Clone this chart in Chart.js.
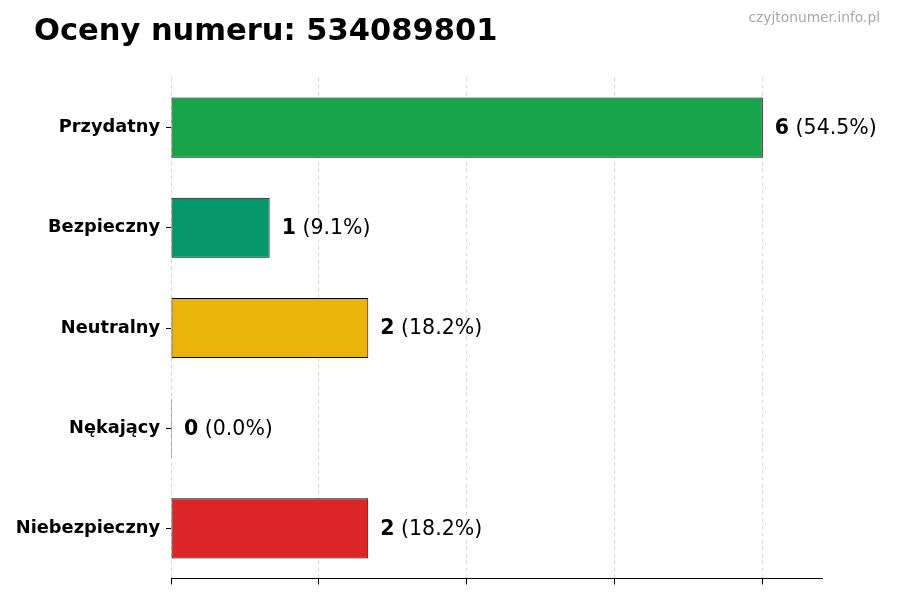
<!DOCTYPE html>
<html>
<head>
<meta charset="utf-8">
<script src="https://cdn.jsdelivr.net/npm/chart.js@4.4.1/dist/chart.umd.min.js"></script>
<style>
  body { margin: 0; background: #fff; }
  #wrap { width: 900px; height: 600px; position: relative; }
</style>
</head>
<body>
<div id="wrap"><canvas id="bar-chart"></canvas></div>
<script>

var categories = ["Przydatny", "Bezpieczny", "Neutralny", "Nękający", "Niebezpieczny"];
var counts = [6, 1, 2, 0, 2];
var colors = ["#17a34a", "#05966a", "#eab40b", "#7f1d1d", "#dc2627"];
var xTicks = [0, 1.5, 3, 4.5, 6];
var titleText = "Oceny numeru: 534089801";
var siteText = "czyjtonumer.info.pl";

var total = counts.reduce(function(a, b) { return a + b; }, 0);

// title, watermark and value labels next to bars
var labelsPlugin = {
  id: "labels",
  afterDraw: function(chart) {
    var ctx = chart.ctx;
    ctx.save();
    ctx.textBaseline = "middle";
    ctx.fillStyle = "#000";
    ctx.font = "bold 30.5px 'DejaVu Sans'";
    ctx.textAlign = "left";
    ctx.fillText(titleText, 34, 32);

    ctx.font = "13.8px 'DejaVu Sans'";
    ctx.fillStyle = "#a8a8a8";
    ctx.textAlign = "right";
    ctx.fillText(siteText, 880, 18);

    var meta = chart.getDatasetMeta(0);
    ctx.textAlign = "left";
    meta.data.forEach(function(bar, i) {
      var x = Math.max(bar.x, bar.base) + 12;
      var y = bar.y + 1;
      var num = String(counts[i]);
      var pct = " (" + (total ? counts[i] / total * 100 : 0).toFixed(1) + "%)";
      ctx.fillStyle = "#000";
      ctx.font = "bold 20.5px 'DejaVu Sans'";
      ctx.fillText(num, x, y);
      var w = ctx.measureText(num).width;
      ctx.font = "20.5px 'DejaVu Sans'";
      ctx.fillText(pct, x + w, y);
    });
    ctx.restore();
  }
};

var chart = new Chart(document.getElementById("bar-chart"), {
  type: "bar",
  data: {
    labels: categories,
    datasets: [{
      data: counts,
      backgroundColor: colors,
      borderColor: "#000",
      borderWidth: 1,
      borderSkipped: false,
      minBarLength: 1,
      barPercentage: 0.6,
      categoryPercentage: 1.0
    }]
  },
  options: {
    indexAxis: "y",
    responsive: true,
    maintainAspectRatio: false,
    animation: false,
    devicePixelRatio: 1,
    layout: { padding: { top: 77.5, right: 78, left: 0, bottom: 0 } },
    plugins: {
      legend: { display: false },
      tooltip: { enabled: false },
      title: { display: false }
    },
    scales: {
      x: {
        type: "linear",
        min: 0,
        max: 6.6,
        afterBuildTicks: function(scale) {
          scale.ticks = xTicks.map(function(v) { return { value: v }; });
        },
        afterFit: function(scale) { scale.height = 21.5; },
        ticks: { display: false },
        grid: {
          color: "rgba(0,0,0,0.15)",
          lineWidth: 1,
          drawTicks: true,
          tickLength: 6,
          tickColor: "#000",
          tickBorderDash: []
        },
        border: { display: true, color: "#000", width: 1, dash: [4, 3] }
      },
      y: {
        afterFit: function(scale) { scale.width = 171; },
        ticks: {
          color: "#000",
          padding: 6,
          font: { family: "'DejaVu Sans'", size: 17.8, weight: "bold" }
        },
        grid: {
          offset: false,
          drawOnChartArea: false,
          drawTicks: true,
          tickLength: 5,
          tickColor: "#000"
        },
        border: { display: false }
      }
    }
  },
  plugins: [labelsPlugin]
});

</script>
</body>
</html>
